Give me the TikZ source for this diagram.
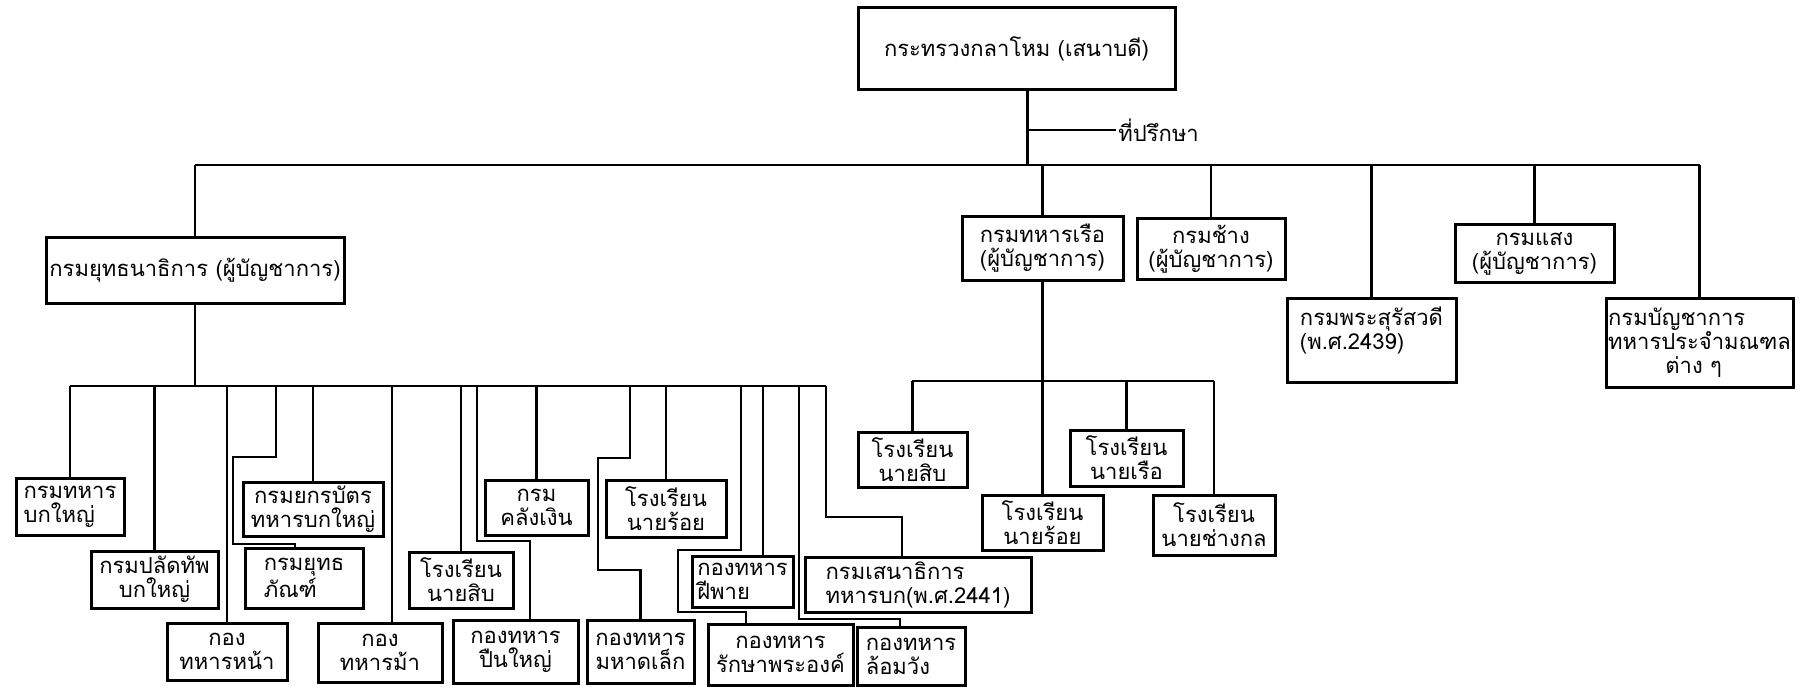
\documentclass[tikz,border=0pt]{standalone}
\usepackage{fontspec}
\newfontfamily\thai[Script=Thai]{Loma}
\tikzset{
  box/.style={draw, line width=1.5pt, inner sep=1pt, font=\thai\fontsize{11}{12}\selectfont, align=center},
  link/.style={line width=1.15pt},
  lbl/.style={inner sep=1pt, font=\thai\fontsize{11}{12}\selectfont}
}
% [opts]{x1}{y1}{x2}{y2}{name}{text}
\newcommand{\bx}[7][]{\node[box,#1,minimum width={(#4-#2)*0.5pt},minimum height={(#5-#3)*0.5pt}] (#6) at ({(#2+#4)/2},{(#3+#5)/2}) {#7};}
\begin{document}
\begin{tikzpicture}[x=0.5pt,y=-0.5pt]
\useasboundingbox (0,0) rectangle (1812,690);
% top level
\bx{858}{8}{1175}{90}{top}{กระทรวงกลาโหม (เสนาบดี)}
\node[lbl, anchor=west] (adv) at (1116,130) {ที่ปรึกษา};
\coordinate (stem) at ([xshift=5.5pt]top.south);
\coordinate (bus1L) at (195,165);
\coordinate (bus1R) at (1700,165);
\draw[link] (bus1L) -- (bus1R);
\draw[link] (stem) -- (stem |- bus1L);
\draw[link] (adv.west) -- (adv.west -| stem);
% level 1
\bx{46}{238}{344}{303}{army}{กรมยุทธนาธิการ (ผู้บัญชาการ)}
\bx{962}{217}{1123}{280}{navy}{กรมทหารเรือ\\(ผู้บัญชาการ)}
\bx{1137}{219}{1285}{279}{chang}{กรมช้าง\\(ผู้บัญชาการ)}
\bx[align=left]{1287}{298}{1456}{382}{surat}{กรมพระสุรัสวดี\\(พ.ศ.2439)\\\mbox{}}
\bx{1455}{225}{1614}{282}{saeng}{กรมแสง\\(ผู้บัญชาการ)}
\bx[align=left]{1606}{298}{1793}{387}{bancha}{กรมบัญชาการ\\ทหารประจำมณฑล\\\hspace*{2.6em}ต่าง ๆ}
\foreach \n in {army,navy,chang,surat,saeng,bancha}
  \draw[link] (\n) -- (\n |- bus1L);
% army sub-tree
\coordinate (bus2L) at (70,386);
\coordinate (bus2R) at (826,386);
\draw[link] (bus2L) -- (bus2R);
\draw[link] (army) -- (army |- bus2L);
\bx[align=left]{16}{478}{124}{535}{tbyai}{กรมทหาร\\บกใหญ่}
\bx{91}{551}{218}{608}{palad}{กรมปลัดทัพ\\บกใหญ่}
\bx{167}{623}{287}{680}{na}{กอง\\ทหารหน้า}
\bx{243}{482}{383}{536}{yokkra}{กรมยกรบัตร\\ทหารบกใหญ่}
\bx[align=left]{245}{548}{363}{608}{yut}{กรมยุทธ\\ภัณฑ์}
\bx{318}{623}{442}{682}{ma}{กอง\\ทหารม้า}
\bx{409}{552}{513}{608}{asib}{โรงเรียน\\นายสิบ}
\bx{485}{480}{588}{535}{klang}{กรม\\คลังเงิน}
\bx{453}{620}{578}{683}{puen}{กองทหาร\\ปืนใหญ่}
\bx{587}{620}{694}{683}{mahad}{กองทหาร\\มหาดเล็ก}
\bx{606}{480}{726}{537}{aroi}{โรงเรียน\\นายร้อย}
\bx[align=left]{692}{556}{793}{607}{fipai}{กองทหาร\\ฝีพาย}
\bx{708}{624}{853}{685}{raksa}{กองทหาร\\รักษาพระองค์}
\bx[align=left]{805}{557}{1031}{612}{sena}{กรมเสนาธิการ\\ทหารบก(พ.ศ.2441)}
\bx[align=left]{857}{627}{965}{685}{lomwang}{กองทหาร\\ล้อมวัง}
\foreach \n in {tbyai,palad,na,yokkra,asib,klang,aroi}
  \draw[link] (\n) -- (\n |- bus2L);
\draw[link] ([xshift=-4.5pt]yut.north) |- (233,544) |- (276,457) -- (276,0 |- bus2L);
\draw[link] ([xshift=6pt]ma.north) -- ([xshift=6pt]ma.north |- bus2L);
\draw[link] ([xshift=7.25pt]puen.north) |- (477,541) -- (477,0 |- bus2L);
\draw[link] (mahad.north) |- (598,570) |- (630,458) -- (630,0 |- bus2L);
\draw[link] ([xshift=-17.25pt]raksa.north) |- (678,612) |- (741,550) -- (741,0 |- bus2L);
\draw[link] ([xshift=10.25pt]fipai.north) -- ([xshift=10.25pt]fipai.north |- bus2L);
\draw[link] ([xshift=-5.5pt]lomwang.north) |- (799,619) -- (799,0 |- bus2L);
\draw[link] ([xshift=-8pt]sena.north) |- (826,517) -- (bus2R);
% navy sub-tree
\coordinate (bus3L) at (912,381);
\coordinate (bus3R) at (1214,381);
\draw[link] (bus3L) -- (bus3R);
\bx{858}{432}{967}{487}{nsib}{โรงเรียน\\นายสิบ}
\bx{982}{495}{1103}{550}{nroi}{โรงเรียน\\นายร้อย}
\bx{1070}{430}{1183}{486}{nreua}{โรงเรียน\\นายเรือ}
\bx{1153}{495}{1275}{555}{nchang}{โรงเรียน\\นายช่างกล}
\draw[link] (navy) -- (navy |- nroi.north);
\foreach \n in {nsib,nreua,nchang}
  \draw[link] (\n) -- (\n |- bus3L);
\end{tikzpicture}
\end{document}
